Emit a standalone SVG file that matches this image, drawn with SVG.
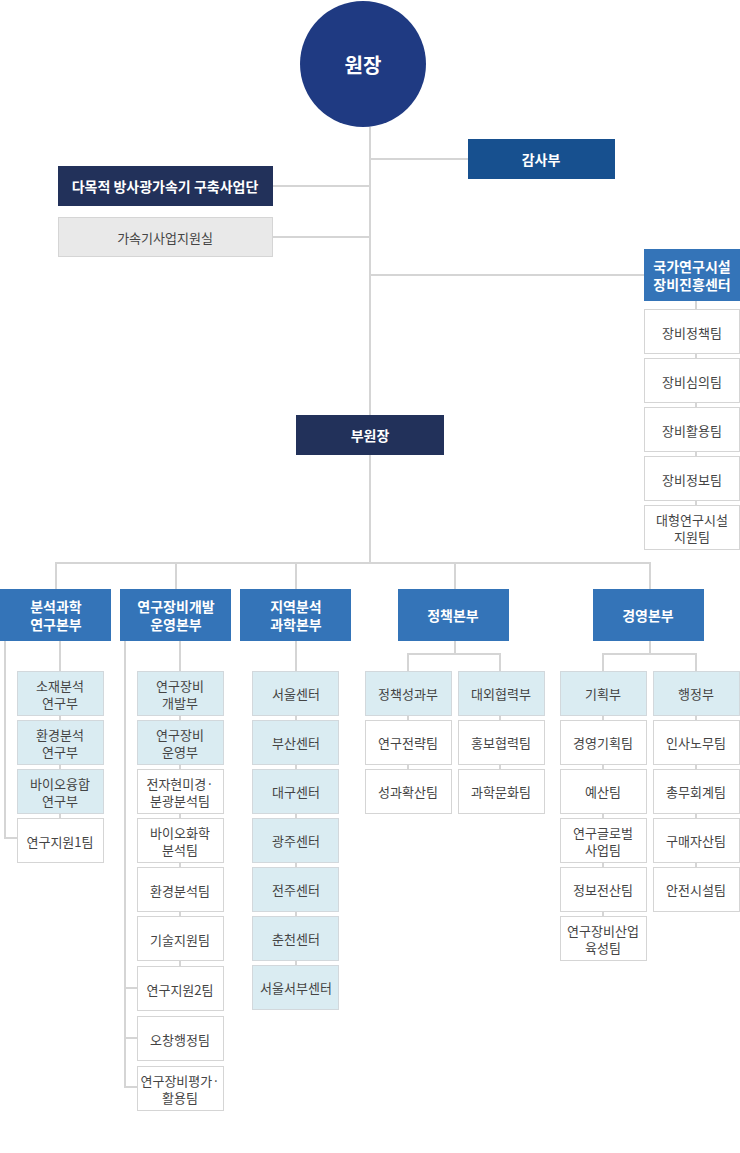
<svg xmlns="http://www.w3.org/2000/svg" width="740" height="1153" viewBox="0 0 740 1153">
<style>
text{font-family:"Noto Sans CJK KR","Noto Sans",sans-serif;text-anchor:middle;dominant-baseline:central}
.h{fill:#3474b8}.ht{fill:#fff;font-size:14px;font-weight:bold}
.l{fill:#daecf2;stroke:#d2d8dc;stroke-width:1}.w{fill:#fff;stroke:#d5d5d5;stroke-width:1}
.t{fill:#444;font-size:13px}
.c line,.c polyline{stroke:#d5d5d5;stroke-width:2;fill:none}
</style>
<g class="c">
<line x1="370" y1="127" x2="370" y2="415"/>
<line x1="370" y1="159" x2="468" y2="159"/>
<line x1="273" y1="186" x2="370" y2="186"/>
<line x1="273" y1="237" x2="370" y2="237"/>
<line x1="370" y1="275" x2="644" y2="275"/>
<line x1="696" y1="301" x2="696" y2="505"/>
<line x1="370" y1="455" x2="370" y2="563"/>
<polyline points="56,589 56,563 650,563 650,589"/>
<line x1="176" y1="563" x2="176" y2="589"/>
<line x1="296" y1="563" x2="296" y2="589"/>
<line x1="455" y1="563" x2="455" y2="589"/>
<line x1="60" y1="641" x2="60" y2="818"/>
<polyline points="5,641 5,838 17,838"/>
<line x1="180" y1="641" x2="180" y2="966"/>
<polyline points="125,641 125,1087 137,1087"/>
<line x1="125" y1="988" x2="137" y2="988"/>
<line x1="125" y1="1038" x2="137" y2="1038"/>
<line x1="296" y1="641" x2="296" y2="965"/>
<line x1="455" y1="641" x2="455" y2="654"/>
<polyline points="408,671 408,654 500,654 500,671"/>
<line x1="408" y1="715" x2="408" y2="769"/>
<line x1="500" y1="715" x2="500" y2="769"/>
<line x1="650" y1="641" x2="650" y2="654"/>
<polyline points="603,671 603,654 696,654 696,671"/>
<line x1="603" y1="715" x2="603" y2="916"/>
<line x1="696" y1="715" x2="696" y2="867"/>
</g>
<g id="director"><circle cx="363" cy="64" r="63" fill="#1f3a82"/><text x="363" y="64" fill="#fff" font-size="20" font-weight="bold">원장</text></g>
<g id="audit"><rect x="468" y="139" width="147" height="40" fill="#17508f"/><text x="541" y="159" class="ht">감사부</text></g>
<g id="accel"><rect x="58" y="166" width="215" height="40" fill="#22315a"/><text x="165" y="186" class="ht">다목적 방사광가속기 구축사업단</text></g>
<g id="accel2"><rect x="58.5" y="217.5" width="214" height="39" fill="#e9e9e9" stroke="#d5d5d5"/><text x="165" y="237" class="t" font-size="14">가속기사업지원실</text></g>
<g id="natl"><rect x="644" y="249" width="96" height="52" class="h"/><text x="692" y="266" class="ht" font-size="13">국가연구시설</text><text x="692" y="284" class="ht" font-size="13">장비진흥센터</text></g>
<g id="n1"><rect x="644.5" y="309.5" width="95" height="44" class="w"/><text x="692" y="332" class="t">장비정책팀</text></g>
<g id="n2"><rect x="644.5" y="358.5" width="95" height="44" class="w"/><text x="692" y="381" class="t">장비심의팀</text></g>
<g id="n3"><rect x="644.5" y="407.5" width="95" height="44" class="w"/><text x="692" y="430" class="t">장비활용팀</text></g>
<g id="n4"><rect x="644.5" y="456.5" width="95" height="44" class="w"/><text x="692" y="479" class="t">장비정보팀</text></g>
<g id="n5"><rect x="644.5" y="505.5" width="95" height="44" class="w"/><text x="692" y="519" class="t">대형연구시설</text><text x="692" y="536" class="t">지원팀</text></g>
<g id="vice"><rect x="296" y="415" width="148" height="40" fill="#22315a"/><text x="370" y="435" class="ht" font-size="15">부원장</text></g>

<g id="h1"><rect x="0" y="589" width="111" height="52" class="h"/><text x="56" y="606" class="ht">분석과학</text><text x="56" y="624" class="ht">연구본부</text></g>
<g id="h2"><rect x="120" y="589" width="111" height="52" class="h"/><text x="176" y="606" class="ht">연구장비개발</text><text x="176" y="624" class="ht">운영본부</text></g>
<g id="h3"><rect x="240" y="589" width="111" height="52" class="h"/><text x="296" y="606" class="ht">지역분석</text><text x="296" y="624" class="ht">과학본부</text></g>
<g id="h4"><rect x="398" y="589" width="111" height="52" class="h"/><text x="453" y="615" class="ht">정책본부</text></g>
<g id="h5"><rect x="593" y="589" width="111" height="52" class="h"/><text x="648" y="615" class="ht">경영본부</text></g>

<g id="a1"><rect x="17.5" y="671.5" width="86" height="44" class="l"/><text x="60" y="685" class="t">소재분석</text><text x="60" y="702" class="t">연구부</text></g>
<g id="a2"><rect x="17.5" y="720.5" width="86" height="44" class="l"/><text x="60" y="734" class="t">환경분석</text><text x="60" y="751" class="t">연구부</text></g>
<g id="a3"><rect x="17.5" y="769.5" width="86" height="44" class="l"/><text x="60" y="783" class="t">바이오융합</text><text x="60" y="800" class="t">연구부</text></g>
<g id="a4"><rect x="17.5" y="818.5" width="86" height="44" class="w"/><text x="60" y="841" class="t">연구지원1팀</text></g>

<g id="b1"><rect x="137.5" y="671.5" width="86" height="44" class="l"/><text x="180" y="685" class="t">연구장비</text><text x="180" y="702" class="t">개발부</text></g>
<g id="b2"><rect x="137.5" y="720.5" width="86" height="44" class="l"/><text x="180" y="734" class="t">연구장비</text><text x="180" y="751" class="t">운영부</text></g>
<g id="b3"><rect x="137.5" y="769.5" width="86" height="44" class="w"/><text x="180" y="783" class="t">전자현미경·</text><text x="180" y="800" class="t">분광분석팀</text></g>
<g id="b4"><rect x="137.5" y="818.5" width="86" height="44" class="w"/><text x="180" y="832" class="t">바이오화학</text><text x="180" y="849" class="t">분석팀</text></g>
<g id="b5"><rect x="137.5" y="867.5" width="86" height="44" class="w"/><text x="180" y="890" class="t">환경분석팀</text></g>
<g id="b6"><rect x="137.5" y="916.5" width="86" height="44" class="w"/><text x="180" y="939" class="t">기술지원팀</text></g>
<g id="b7"><rect x="137.5" y="966.5" width="86" height="44" class="w"/><text x="180" y="989" class="t">연구지원2팀</text></g>
<g id="b8"><rect x="137.5" y="1016.5" width="86" height="44" class="w"/><text x="180" y="1039" class="t">오창행정팀</text></g>
<g id="b9"><rect x="137.5" y="1066.5" width="86" height="44" class="w"/><text x="180" y="1080" class="t">연구장비평가·</text><text x="180" y="1097" class="t">활용팀</text></g>

<g id="c1"><rect x="252.5" y="671.5" width="86" height="44" class="l"/><text x="296" y="693" class="t">서울센터</text></g>
<g id="c2"><rect x="252.5" y="720.5" width="86" height="44" class="l"/><text x="296" y="742" class="t">부산센터</text></g>
<g id="c3"><rect x="252.5" y="769.5" width="86" height="44" class="l"/><text x="296" y="791" class="t">대구센터</text></g>
<g id="c4"><rect x="252.5" y="818.5" width="86" height="44" class="l"/><text x="296" y="840" class="t">광주센터</text></g>
<g id="c5"><rect x="252.5" y="867.5" width="86" height="44" class="l"/><text x="296" y="889" class="t">전주센터</text></g>
<g id="c6"><rect x="252.5" y="916.5" width="86" height="44" class="l"/><text x="296" y="938" class="t">춘천센터</text></g>
<g id="c7"><rect x="252.5" y="965.5" width="86" height="44" class="l"/><text x="296" y="987" class="t">서울서부센터</text></g>

<g id="d1"><rect x="365.5" y="671.5" width="86" height="44" class="l"/><text x="408" y="693" class="t">정책성과부</text></g>
<g id="d2"><rect x="365.5" y="720.5" width="86" height="44" class="w"/><text x="408" y="742" class="t">연구전략팀</text></g>
<g id="d3"><rect x="365.5" y="769.5" width="86" height="44" class="w"/><text x="408" y="791" class="t">성과확산팀</text></g>
<g id="d4"><rect x="458.5" y="671.5" width="86" height="44" class="l"/><text x="501" y="693" class="t">대외협력부</text></g>
<g id="d5"><rect x="458.5" y="720.5" width="86" height="44" class="w"/><text x="501" y="742" class="t">홍보협력팀</text></g>
<g id="d6"><rect x="458.5" y="769.5" width="86" height="44" class="w"/><text x="501" y="791" class="t">과학문화팀</text></g>

<g id="e1"><rect x="560.5" y="671.5" width="86" height="44" class="l"/><text x="603" y="693" class="t">기획부</text></g>
<g id="e2"><rect x="560.5" y="720.5" width="86" height="44" class="w"/><text x="603" y="742" class="t">경영기획팀</text></g>
<g id="e3"><rect x="560.5" y="769.5" width="86" height="44" class="w"/><text x="603" y="791" class="t">예산팀</text></g>
<g id="e4"><rect x="560.5" y="818.5" width="86" height="44" class="w"/><text x="603" y="832" class="t">연구글로벌</text><text x="603" y="849" class="t">사업팀</text></g>
<g id="e5"><rect x="560.5" y="867.5" width="86" height="44" class="w"/><text x="603" y="889" class="t">정보전산팀</text></g>
<g id="e6"><rect x="560.5" y="916.5" width="86" height="44" class="w"/><text x="603" y="930" class="t">연구장비산업</text><text x="603" y="947" class="t">육성팀</text></g>
<g id="f1"><rect x="653.5" y="671.5" width="86" height="44" class="l"/><text x="696" y="693" class="t">행정부</text></g>
<g id="f2"><rect x="653.5" y="720.5" width="86" height="44" class="w"/><text x="696" y="742" class="t">인사노무팀</text></g>
<g id="f3"><rect x="653.5" y="769.5" width="86" height="44" class="w"/><text x="696" y="791" class="t">총무회계팀</text></g>
<g id="f4"><rect x="653.5" y="818.5" width="86" height="44" class="w"/><text x="696" y="840" class="t">구매자산팀</text></g>
<g id="f5"><rect x="653.5" y="867.5" width="86" height="44" class="w"/><text x="696" y="889" class="t">안전시설팀</text></g>
</svg>
